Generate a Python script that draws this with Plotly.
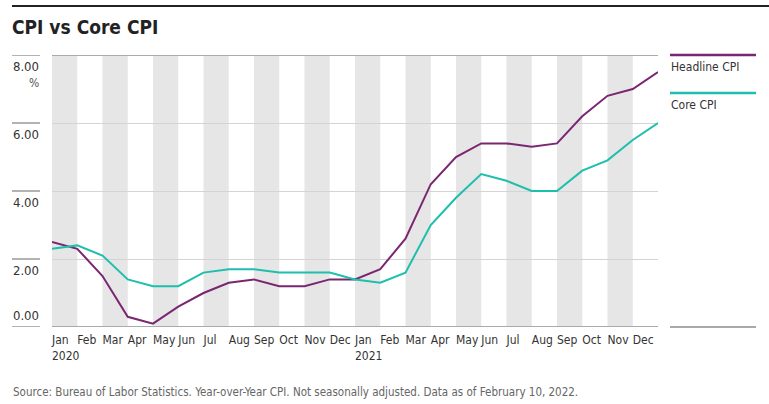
import plotly.graph_objects as go

# ---- data ----
months = ["Jan", "Feb", "Mar", "Apr", "May", "Jun", "Jul", "Aug", "Sep", "Oct", "Nov", "Dec",
          "Jan", "Feb", "Mar", "Apr", "May", "Jun", "Jul", "Aug", "Sep", "Oct", "Nov", "Dec"]
years = {0: "2020", 12: "2021"}
headline_cpi = [2.5, 2.3, 1.5, 0.3, 0.1, 0.6, 1.0, 1.3, 1.4, 1.2, 1.2, 1.4,
                1.4, 1.7, 2.6, 4.2, 5.0, 5.4, 5.4, 5.3, 5.4, 6.2, 6.8, 7.0, 7.5]
core_cpi = [2.3, 2.4, 2.1, 1.4, 1.2, 1.2, 1.6, 1.7, 1.7, 1.6, 1.6, 1.6,
            1.4, 1.3, 1.6, 3.0, 3.8, 4.5, 4.3, 4.0, 4.0, 4.6, 4.9, 5.5, 6.0]
series_names = ["Headline CPI", "Core CPI"]
y_ticks = [0, 2, 4, 6, 8]
y_ticktext = ["0.00", "2.00", "4.00", "6.00", "8.00"]
y_unit = "%"
title = "CPI vs Core CPI"
source = "Source: Bureau of Labor Statistics. Year-over-Year CPI. Not seasonally adjusted. Data as of February 10, 2022."

# ---- styling ----
W, H = 769, 404
L, R, T, B = 52, 111, 55, 77
PW, PH = W - L - R, H - T - B
FONT = "DejaVu Sans Condensed, Liberation Sans Narrow, sans-serif"
PURPLE = "#7a2670"
TEAL = "#1dbfad"
BAND = "#e6e6e6"
TXT = "#333333"

def px_x(px):
    return (px - L) / PW

def px_y(py):
    return (H - B - py) / PH

x_idx = list(range(len(headline_cpi)))

fig = go.Figure()
fig.add_trace(go.Scatter(x=x_idx, y=headline_cpi, mode="lines", name=series_names[0],
                         line=dict(color=PURPLE, width=2), hoverinfo="skip"))
fig.add_trace(go.Scatter(x=x_idx, y=core_cpi, mode="lines", name=series_names[1],
                         line=dict(color=TEAL, width=2), hoverinfo="skip"))

shapes = []
for i in range(0, len(months), 2):
    shapes.append(dict(type="rect", xref="x", yref="paper", x0=i, x1=i + 1, y0=0, y1=1,
                       fillcolor=BAND, line=dict(width=0), layer="below"))
for yv in (y_ticks[0], y_ticks[-1]):
    shapes.append(dict(type="line", xref="paper", yref="y", x0=0, x1=1, y0=yv, y1=yv,
                       line=dict(color="#aaaaaa", width=2), layer="above"))
for yv in y_ticks:
    shapes.append(dict(type="line", xref="paper", yref="y", x0=px_x(12), x1=px_x(40), y0=yv, y1=yv,
                       line=dict(color="#999999", width=1.5)))
shapes.append(dict(type="line", xref="paper", yref="paper", x0=px_x(12), x1=px_x(769),
                   y0=px_y(6), y1=px_y(6), line=dict(color="#222222", width=2)))
shapes.append(dict(type="line", xref="paper", yref="paper", x0=px_x(670), x1=px_x(756),
                   y0=px_y(55), y1=px_y(55), line=dict(color=PURPLE, width=2.5)))
shapes.append(dict(type="line", xref="paper", yref="paper", x0=px_x(670), x1=px_x(756),
                   y0=px_y(93), y1=px_y(93), line=dict(color=TEAL, width=2.5)))
shapes.append(dict(type="line", xref="paper", yref="paper", x0=px_x(670), x1=px_x(756),
                   y0=px_y(327), y1=px_y(327), line=dict(color="#555555", width=1)))

annotations = [
    dict(text=series_names[0], xref="paper", yref="paper", x=px_x(669), y=px_y(67),
         xanchor="left", yanchor="middle", showarrow=False, font=dict(size=12, color=TXT, family=FONT)),
    dict(text=series_names[1], xref="paper", yref="paper", x=px_x(669), y=px_y(105),
         xanchor="left", yanchor="middle", showarrow=False, font=dict(size=12, color=TXT, family=FONT)),
    dict(text=y_unit, xref="paper", yref="y", x=px_x(41), y=y_ticks[-1], yshift=-28,
         xanchor="right", yanchor="middle", showarrow=False, font=dict(size=12, color="#555555", family=FONT)),
    dict(text=source, xref="paper", yref="paper", x=px_x(11), y=px_y(392),
         xanchor="left", yanchor="middle", showarrow=False, font=dict(size=11.5, color="#666666", family=FONT)),
]

ticktext = [m + ("<br>" + years[i] if i in years else "") for i, m in enumerate(months)]

# zero label sits above its line: drawn by an overlaying axis
fig.add_trace(go.Scatter(x=[None], y=[None], yaxis="y2", showlegend=False, hoverinfo="skip"))

fig.update_layout(
    width=W, height=H,
    margin=dict(l=L, r=R, t=T, b=B, pad=0, autoexpand=False),
    paper_bgcolor="white", plot_bgcolor="white",
    showlegend=False,
    font=dict(family=FONT, color=TXT, size=12),
    title=dict(text="<b>" + title + "</b>", x=12 / W, y=1 - 27 / H, xref="container", yref="container",
               xanchor="left", yanchor="middle", font=dict(size=19, color="#222222", family=FONT)),
    shapes=shapes,
    annotations=annotations,
    xaxis=dict(range=[0, len(months)], tickvals=list(range(len(months))), ticktext=ticktext,
               showgrid=False, zeroline=False, showline=False, ticks="", tickangle=0,
               automargin=False,
               ticklabelposition="outside right", ticklabelstandoff=4,
               tickfont=dict(size=12, color=TXT), fixedrange=True),
    yaxis=dict(range=[0, 8], tickvals=y_ticks[1:], ticktext=y_ticktext[1:], automargin=False,
               showgrid=True, gridcolor="#d4d4d4", gridwidth=1, zeroline=False, showline=False,
               ticks="", ticklabelposition="outside bottom", ticklabelstandoff=12, ticklabelshift=2,
               tickfont=dict(size=13, color=TXT), fixedrange=True),
    yaxis2=dict(range=[0, 8], overlaying="y", side="left", tickvals=y_ticks[:1], ticktext=y_ticktext[:1],
                automargin=False, showgrid=False, zeroline=False, showline=False,
                ticks="", ticklabelposition="outside top", ticklabelstandoff=12, ticklabelshift=-2,
                tickfont=dict(size=13, color=TXT), fixedrange=True),
)

fig.write_html("out.html", config={"displayModeBar": False},
               post_script="document.body.style.margin='0';")
